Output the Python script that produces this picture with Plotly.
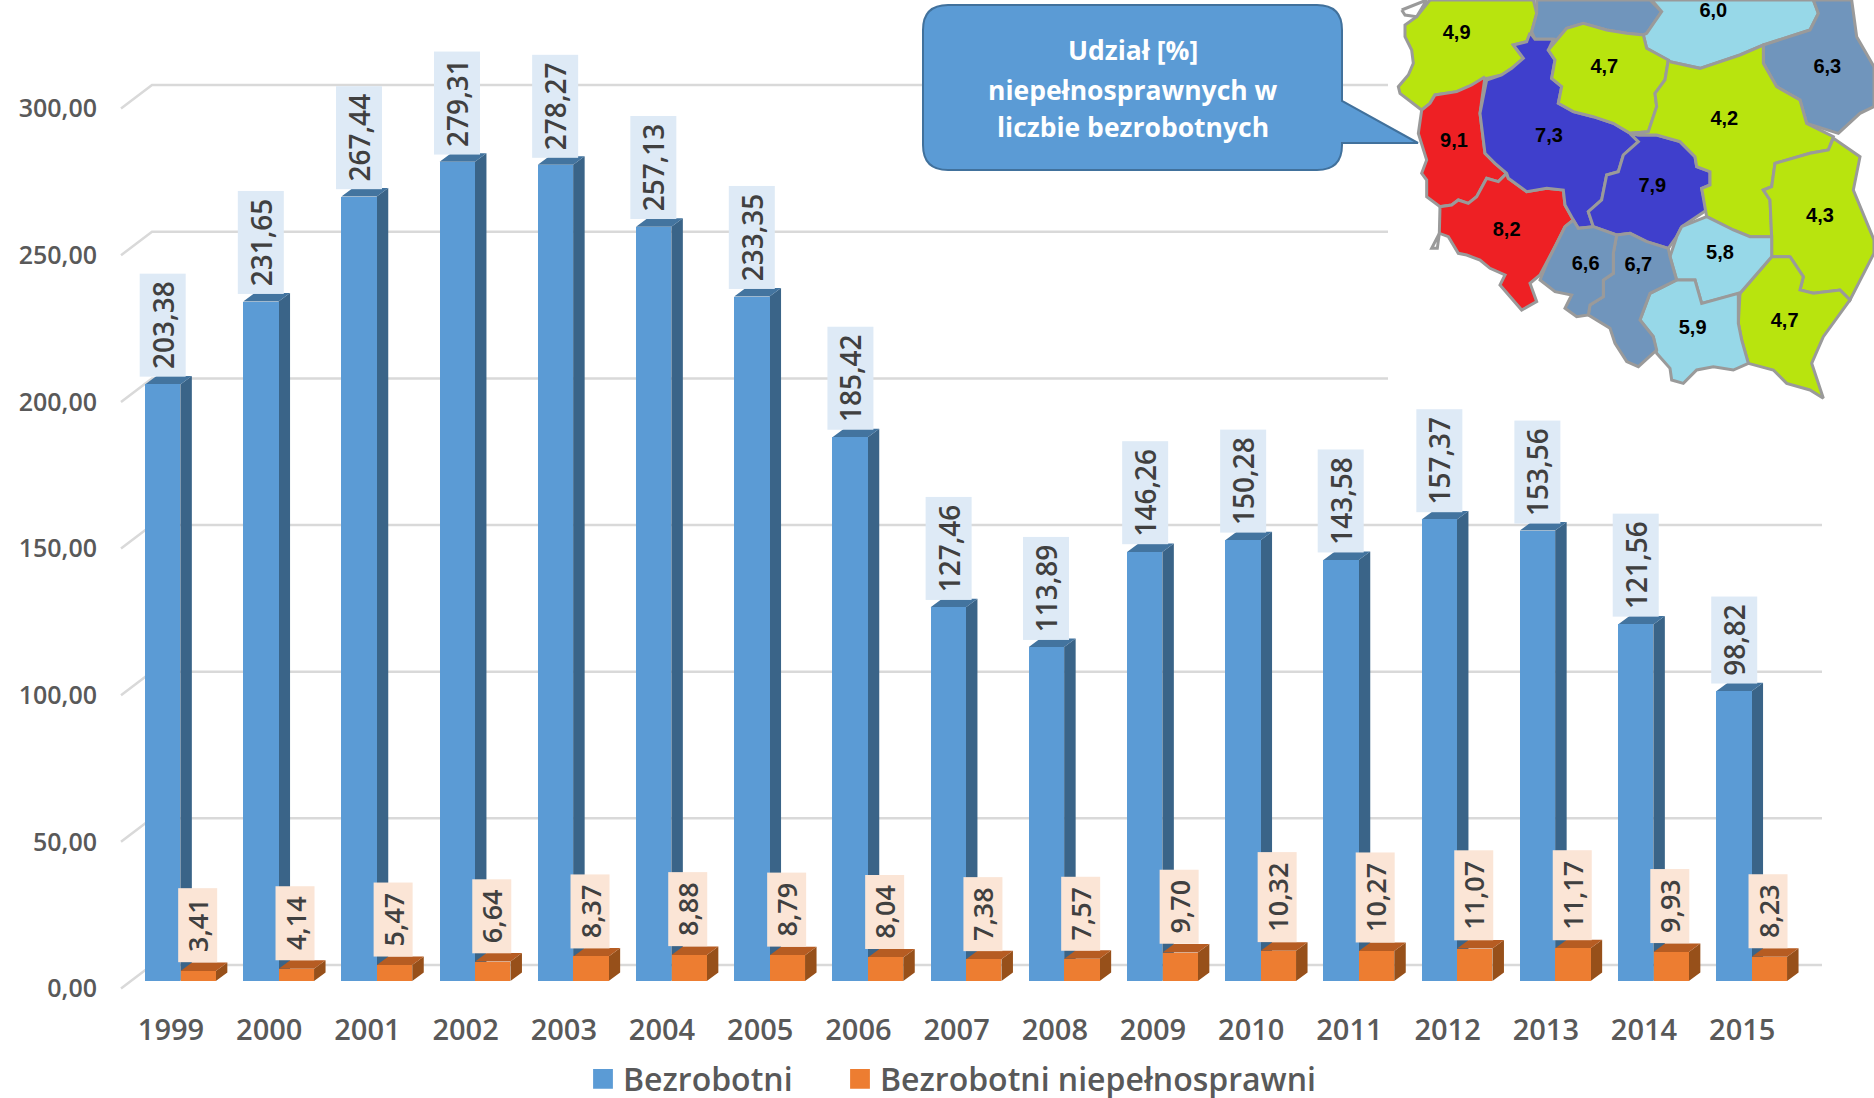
import plotly.graph_objects as go

years = ["1999","2000","2001","2002","2003","2004","2005","2006","2007","2008","2009","2010","2011","2012","2013","2014","2015"]
bezrobotni = [203.38,231.65,267.44,279.31,278.27,257.13,233.35,185.42,127.46,113.89,146.26,150.28,143.58,157.37,153.56,121.56,98.82]
niepelnosprawni = [3.41,4.14,5.47,6.64,8.37,8.88,8.79,8.04,7.38,7.57,9.70,10.32,10.27,11.07,11.17,9.93,8.23]
y_ticks = [0,50,100,150,200,250,300]
y_tick_text = ["0,00","50,00","100,00","150,00","200,00","250,00","300,00"]
callout_lines = ["Udział [%]", "niepełnosprawnych w", "liczbie bezrobotnych"]

# Map regions: outline in map units, fill colour
GREEN, BLUE, RED, STEEL, SKY = "#B8E40E", "#3F3FCC", "#EE2024", "#7095BC", "#97D8E8"
regions = [
 (GREEN, [(150,0),(460,0),(470,40),(455,95),(440,125),(400,135),(430,175),(395,205),(365,225),(320,235),(275,255),(230,275),(165,285),(150,310),(125,330),(105,315),(60,280),(55,260),(85,225),(100,190),(95,150),(75,110),(75,75),(110,50)]),
 (STEEL, [(470,0),(810,0),(845,35),(800,100),(790,105),(740,100),(680,90),(610,70),(560,85),(530,120),(520,118),(465,118),(455,95),(470,40)]),
 (SKY, [(815,0),(1300,0),(1315,40),(1290,90),(1150,135),(1080,165),(960,205),(870,185),(800,145),(790,105),(800,100),(845,35)]),
 (STEEL, [(1300,0),(1415,0),(1430,110),(1482,200),(1482,320),(1440,340),(1375,400),(1280,370),(1260,300),(1190,260),(1150,190),(1150,135),(1290,90),(1315,40)]),
 (RED, [(315,230),(300,340),(315,460),(345,490),(380,520),(355,545),(320,535),(290,590),(265,610),(235,600),(215,615),(180,620),(140,590),(140,540),(125,520),(140,480),(115,400),(125,330),(150,310),(165,285),(230,275),(275,255)]),
 (RED, [(380,520),(385,535),(440,575),(500,565),(550,570),(555,615),(580,660),(555,680),(530,730),(500,790),(480,825),(450,850),(470,905),(425,930),(400,900),(360,855),(375,825),(330,805),(300,780),(260,765),(235,760),(205,710),(178,700),(180,620),(215,615),(235,600),(265,610),(290,590),(320,535),(355,545)]),
 (BLUE, [(450,98),(465,118),(520,118),(505,150),(525,180),(515,235),(545,260),(535,310),(580,335),(640,350),(700,370),(750,400),(775,425),(730,465),(715,515),(680,525),(665,600),(625,635),(640,680),(595,685),(580,660),(555,615),(550,570),(500,565),(440,575),(385,535),(380,520),(345,490),(315,460),(300,340),(320,240),(365,225),(395,205),(430,175),(400,135),(440,125)]),
 (BLUE, [(775,405),(830,405),(900,425),(945,470),(950,500),(990,515),(990,555),(965,565),(980,630),(905,680),(890,710),(865,745),(800,725),(750,700),(710,705),(640,680),(625,635),(665,600),(680,525),(715,515),(730,465),(775,425),(750,400)]),
 (GREEN, [(610,70),(680,90),(740,100),(790,105),(800,145),(865,180),(855,240),(825,280),(830,320),(805,395),(750,400),(700,370),(640,350),(580,335),(535,310),(545,260),(515,235),(525,180),(505,150),(530,120),(560,85)]),
 (GREEN, [(870,185),(960,205),(1080,165),(1150,135),(1150,190),(1190,260),(1260,300),(1280,370),(1360,410),(1345,450),(1290,460),(1185,490),(1175,560),(1150,570),(1170,600),(1175,710),(1110,710),(1060,690),(980,650),(965,565),(990,555),(990,515),(950,500),(945,470),(900,425),(830,405),(775,405),(750,400),(805,395),(830,320),(825,280),(855,240),(865,180)]),
 (GREEN, [(1360,415),(1440,470),(1420,570),(1450,640),(1482,720),(1482,760),(1410,900),(1380,870),(1300,880),(1260,870),(1270,830),(1230,770),(1175,770),(1175,710),(1170,600),(1150,570),(1175,560),(1185,490),(1290,460),(1345,450)]),
 (GREEN, [(1230,770),(1175,770),(1080,880),(1075,970),(1085,1020),(1105,1090),(1180,1110),(1220,1150),(1290,1170),(1330,1195),(1295,1090),(1330,1010),(1410,900),(1380,870),(1300,880),(1260,870),(1270,830)]),
 (SKY, [(905,680),(980,650),(1060,690),(1110,710),(1175,710),(1175,770),(1080,880),(965,910),(945,840),(890,840),(870,770),(890,710)]),
 (SKY, [(810,880),(890,840),(945,840),(965,910),(1075,880),(1075,970),(1085,1020),(1105,1090),(1060,1110),(1000,1100),(950,1110),(910,1150),(875,1140),(870,1105),(830,1060),(820,1010),(780,960)]),
 (STEEL, [(710,705),(750,700),(800,725),(865,745),(870,770),(890,840),(810,880),(780,960),(820,1010),(830,1050),(775,1100),(740,1085),(705,1030),(690,985),(625,945),(630,915),(670,890),(670,840),(700,820),(700,760)]),
 (STEEL, [(555,680),(580,660),(595,685),(640,680),(710,705),(700,760),(700,820),(670,840),(670,890),(630,915),(625,945),(590,950),(555,925),(575,885),(525,875),(480,840),(500,790),(530,730)]),
 ("#FFFFFF", [(65,30),(120,8),(140,0),(110,50),(75,45)]),
 ("#FFFFFF", [(178,700),(172,745),(155,745)]),
]
map_label_text = ["4,9","6,0","4,7","6,3","4,2","9,1","7,3","7,9","8,2","4,3","5,8","6,6","6,7","5,9","4,7"]
map_label_x = [230,1000,673,1342,1033,222,507,817,380,1320,1020,617,775,938,1214]
map_label_y = [103,35,205,205,360,425,412,562,692,650,762,795,798,988,966]

# Page geometry (pixels)
W, H = 1874, 1098
L, B_PX = 105, 1005
X0_PX, STEP = 171.0, 98.2       # centre of first category, category pitch
PX_PER_UNIT = 2.933
TICK_ZERO_PX, BAR_ZERO_PX, GRID_ZERO_PX = 988.5, 981.0, 965.0
BAR_W = 0.36
BLUE_OFF, ORANGE_OFF = (145-X0_PX)/STEP, (180.5-X0_PX)/STEP
DX, DY = 11.5/STEP, 8.5/PX_PER_UNIT
BAR_TO_TICK = (TICK_ZERO_PX-BAR_ZERO_PX)/PX_PER_UNIT
GRID_TO_TICK = (TICK_ZERO_PX-GRID_ZERO_PX)/PX_PER_UNIT

def xpx(p): return (p-X0_PX)/STEP
def paper_x(p): return (p-L)/(W-L)
def paper_y(p): return (B_PX-p)/B_PX

fig = go.Figure()

# Gridlines with the short diagonal at their left end (hidden by the pasted map at the top right)
for t in y_ticks:
    right = 1388 if t >= 200 else 1822
    fig.add_trace(go.Scatter(x=[xpx(121),xpx(152),xpx(right)], y=[t,t+GRID_TO_TICK,t+GRID_TO_TICK],
        mode="lines", line=dict(color="#D9D9D9", width=2.5), showlegend=False, hoverinfo="skip"))

def faces(values, off):
    sx, sy, tx, ty = [], [], [], []
    for i, v in enumerate(values):
        xl, xr = i+off, i+off+BAR_W
        b = BAR_TO_TICK
        sx += [xr, xr+DX, xr+DX, xr, None]
        sy += [b, b+DY, v+b+DY, v+b, None]
        tx += [xl, xl+DX, xr+DX, xr, None]
        ty += [v+b, v+b+DY, v+b+DY, v+b, None]
    return sx, sy, tx, ty

for values, off, side, top in [(bezrobotni, BLUE_OFF, "#3A6488", "#43749F"),
                               (niepelnosprawni, ORANGE_OFF, "#97501A", "#B65C22")]:
    sx, sy, tx, ty = faces(values, off)
    fig.add_trace(go.Scatter(x=sx, y=sy, mode="lines", fill="toself", fillcolor=side, line=dict(width=0), showlegend=False, hoverinfo="skip"))
    fig.add_trace(go.Scatter(x=tx, y=ty, mode="lines", fill="toself", fillcolor=top, line=dict(width=0), showlegend=False, hoverinfo="skip"))

idx = list(range(len(years)))
fig.add_trace(go.Bar(x=idx, y=bezrobotni, name="Bezrobotni", yaxis="y2", width=BAR_W, offset=BLUE_OFF,
                     legend="legend", marker=dict(color="#5B9BD5", line=dict(width=0))))
fig.add_trace(go.Bar(x=idx, y=niepelnosprawni, name="Bezrobotni niepełnosprawni", yaxis="y2", width=BAR_W, offset=ORANGE_OFF,
                     legend="legend2", marker=dict(color="#ED7D31", line=dict(width=0))))

# Map
for color, pts in regions:
    fig.add_trace(go.Scatter(x=[p[0] for p in pts]+[pts[0][0]], y=[p[1] for p in pts]+[pts[0][1]],
        xaxis="x3", yaxis="y3", mode="lines", fill="toself", fillcolor=color,
        line=dict(color="#9A9A9A", width=3), showlegend=False, hoverinfo="skip"))
fig.add_trace(go.Scatter(x=map_label_x, y=map_label_y, text=[f"<b>{t}</b>" for t in map_label_text],
    xaxis="x3", yaxis="y3", mode="text", textposition="middle center",
    textfont=dict(family="Liberation Sans", size=20, color="#000000"), showlegend=False, hoverinfo="skip"))

def label(i, off, v, bg, size, h, n, shift, xs=0):
    txt = f"{v:.2f}".replace(".", ",")
    return dict(x=i+off+BAR_W/2, y=v, xref="x", yref="y2", text=txt, textangle=-90, showarrow=False,
                xanchor="center", yanchor="bottom", yshift=shift, xshift=xs, bgcolor=bg, width=n, height=h,
                align="center", valign="middle", font=dict(family="Open Sans", size=size, color="#404040", weight=600))

annotations = []
for i, v in enumerate(bezrobotni):
    w = 100 if v >= 100 else 84
    annotations.append(label(i, BLUE_OFF, v, "#DEEAF6", 28, 43, w, 7))
for i, v in enumerate(niepelnosprawni):
    w = 87 if v >= 10 else 71
    annotations.append(label(i, ORANGE_OFF, v, "#FBE5D6", 27, 36, w, 8, -1))
for line, py in zip(callout_lines, [50, 90, 127]):
    annotations.append(dict(x=paper_x(1133), y=paper_y(py), xref="paper", yref="paper", text=line, showarrow=False,
                            xanchor="center", yanchor="middle",
                            font=dict(family="Open Sans", size=26.5, color="#FFFFFF", weight=700)))

# Speech-bubble callout
l, r, t, b, c = 923, 1342, 5, 170, 25
pts = (f"M{paper_x(l+c)},{paper_y(t)} L{paper_x(r-c)},{paper_y(t)} "
       f"Q{paper_x(r)},{paper_y(t)} {paper_x(r)},{paper_y(t+c)} "
       f"L{paper_x(r)},{paper_y(101)} L{paper_x(1418)},{paper_y(143)} L{paper_x(r)},{paper_y(143)} "
       f"L{paper_x(r)},{paper_y(b-c)} Q{paper_x(r)},{paper_y(b)} {paper_x(r-c)},{paper_y(b)} "
       f"L{paper_x(l+c)},{paper_y(b)} Q{paper_x(l)},{paper_y(b)} {paper_x(l)},{paper_y(b-c)} "
       f"L{paper_x(l)},{paper_y(t+c)} Q{paper_x(l)},{paper_y(t)} {paper_x(l+c)},{paper_y(t)} Z")

legend_font = dict(family="Open Sans", size=32, color="#595959", weight=600)
fig.update_layout(
    width=W, height=H, autosize=False, paper_bgcolor="#FFFFFF", plot_bgcolor="rgba(0,0,0,0)",
    margin=dict(l=L, r=0, t=0, b=H-B_PX, autoexpand=False),
    barmode="overlay", bargap=0,
    annotations=annotations,
    shapes=[dict(type="path", path=pts, xref="paper", yref="paper", fillcolor="#5B9BD5",
                 line=dict(color="#41719C", width=2), layer="above")],
    legend=dict(orientation="h", xref="container", yref="container", x=583/W, y=(H-1079)/H,
                xanchor="left", yanchor="middle", font=legend_font, bgcolor="rgba(0,0,0,0)"),
    legend2=dict(orientation="h", xref="container", yref="container", x=840/W, y=(H-1079)/H,
                 xanchor="left", yanchor="middle", font=legend_font, bgcolor="rgba(0,0,0,0)"),
    xaxis=dict(range=[(L-X0_PX)/STEP, (W-X0_PX)/STEP], tickvals=idx, ticktext=years, ticks="", showgrid=False,
               zeroline=False, showline=False, automargin=False, ticklabelstandoff=5,
               tickfont=dict(family="Open Sans", size=29, color="#595959", weight=600)),
    yaxis=dict(range=[(TICK_ZERO_PX-B_PX)/PX_PER_UNIT, TICK_ZERO_PX/PX_PER_UNIT], tickvals=y_ticks, ticktext=y_tick_text,
               ticks="", showgrid=False, zeroline=False, showline=False, automargin=False, ticklabelstandoff=7,
               tickfont=dict(family="Open Sans", size=25, color="#595959", weight=600)),
    yaxis2=dict(range=[(BAR_ZERO_PX-B_PX)/PX_PER_UNIT, BAR_ZERO_PX/PX_PER_UNIT], overlaying="y", side="left",
                visible=False, showgrid=False, zeroline=False),
    xaxis3=dict(domain=[paper_x(1380), 1], range=[0, 1482], visible=False, anchor="y3", fixedrange=True),
    yaxis3=dict(domain=[paper_y(410), 1], range=[1230, 0], visible=False, anchor="x3", fixedrange=True),
)
# Remove the browser's default 8px body margin; draw the legend swatches at the reference's 20px size
page_css = ("document.body.style.margin='0';document.documentElement.style.overflow='hidden';"
            "var s=document.createElement('style');"
            "s.textContent='.legendpoints path{transform:translate(20px,0px) scale(1.65) !important;}';"
            "document.head.appendChild(s);")
fig.write_html("out.html", post_script=page_css, config=dict(displayModeBar=False))
